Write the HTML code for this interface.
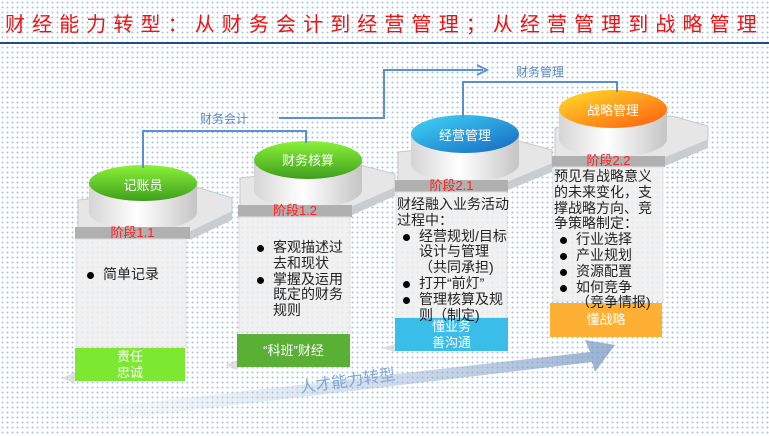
<!DOCTYPE html>
<html><head><meta charset="utf-8"><style>
body{margin:0}
#p{position:relative;width:769px;height:436px;overflow:hidden;background-color:#fff;background-image:radial-gradient(circle,#a9c6e0 0.8px,transparent 1px);background-size:5px 5px;font-family:"Liberation Sans","Noto Sans CJK SC",sans-serif}
.a{position:absolute}
.t{font-size:14px;line-height:15.8px;color:#222}
.h{font-size:13px;color:#f22;text-align:center;line-height:12px}
.f{color:#fff;font-size:13px;text-align:center;line-height:16px;display:flex;align-items:center;justify-content:center}
ul{margin:0;padding:0 0 0 22px;list-style:none}
li{position:relative}
li:before{content:"";position:absolute;left:-16px;top:5px;width:7px;height:7px;border-radius:50%;background:#000}
.c{color:#fff;font-size:13px;text-align:center}
</style></head><body><div id="p">
<div class="a" style="left:5px;top:8px;font-size:20px;letter-spacing:7.1px;color:#f01010;white-space:nowrap">财经能力转型：从财务会计到经营管理；从经营管理到战略管理</div>
<svg class="a" style="left:0;top:0" width="769" height="436">
<defs>
<linearGradient id="side" x1="0" x2="1"><stop offset="0" stop-color="#d5d5d5"/><stop offset=".45" stop-color="#fff"/><stop offset="1" stop-color="#c5c5c5"/></linearGradient>
<linearGradient id="g1" x1="0" y1="0" x2="0" y2="1"><stop offset="0" stop-color="#8af23a"/><stop offset="1" stop-color="#3f9e1c"/></linearGradient>
<linearGradient id="g3" x1="0" y1="0" x2="1" y2="1"><stop offset="0" stop-color="#3fd8f8"/><stop offset="1" stop-color="#1766c0"/></linearGradient>
<linearGradient id="g4" x1="0" y1="0" x2="1" y2="1"><stop offset="0" stop-color="#ffe02a"/><stop offset="1" stop-color="#ff5a10"/></linearGradient>
<linearGradient id="arr" x1="0" x2="1"><stop offset="0" stop-color="#dfe8f2" stop-opacity=".2"/><stop offset="1" stop-color="#6f90bf"/></linearGradient>
</defs>
<line x1="0" y1="43" x2="769" y2="43" stroke="#1f4e8c" stroke-width="2"/>
<polygon points="60,412 590,352 585,340 615,345 595,372 592,362 70,425" fill="url(#arr)" opacity=".7"/>
<g fill="#e6e6e6" stroke="#c8c8c8">
<polygon points="78,200 200,188 232,198 232,212 190,232 78,232"/>
<polygon points="240,178 360,165 395,174 395,188 352,207 240,207"/>
<polygon points="398,152 515,140 552,150 552,164 508,182 398,182"/>
<polygon points="555,128 672,116 708,126 708,140 665,158 555,158"/>
</g>
<g fill="#c9cdd0"><polygon points="190,232 232,212 232,220 190,240"/><polygon points="352,207 395,188 395,196 352,215"/><polygon points="508,182 552,164 552,172 508,190"/><polygon points="665,158 708,140 708,148 665,166"/></g>
<g><path d="M89,183 V212 A54,18 0 0 0 197,212 V183 Z" fill="url(#side)"/><ellipse cx="143" cy="183" rx="54" ry="18" fill="url(#g1)"/></g>
<g><path d="M254,160 V190 A54,18 0 0 0 362,190 V160 Z" fill="url(#side)"/><ellipse cx="308" cy="160" rx="54" ry="19" fill="url(#g1)"/></g>
<g><path d="M411,134 V164 A54,18 0 0 0 519,164 V134 Z" fill="url(#side)"/><ellipse cx="465" cy="134" rx="54" ry="19" fill="url(#g3)"/></g>
<g><path d="M559,109 V139 A54,18 0 0 0 667,139 V109 Z" fill="url(#side)"/><ellipse cx="613" cy="109" rx="54" ry="19" fill="url(#g4)"/></g>
<g fill="none" stroke="#5b8fd0" stroke-width="2">
<polyline points="143,168 143,131 306,131 306,143"/>
<polyline points="279,118 384,118 384,70 483,70"/>
<polyline points="463,118 463,82 617,82 617,92"/>
</g>
<polyline points="477,65 487,70 477,75" fill="none" stroke="#5b8fd0" stroke-width="2"/>
<g fill="#b0b0b0"><rect x="75" y="227" width="115" height="12"/><rect x="238" y="205" width="114" height="12"/><rect x="395" y="180" width="113" height="12"/><rect x="552" y="156" width="113" height="11"/></g>
<g fill="#efefef" fill-opacity=".85" stroke="#e0e0e0"><rect x="76" y="239" width="110" height="108"/><rect x="239" y="217" width="111" height="115"/><rect x="396" y="192" width="111" height="126"/><rect x="553" y="167" width="110" height="134"/></g>
<g fill="#ccc" opacity=".6"><polygon points="62,378 75,372 75,384"/><polygon points="225,365 237,360 237,370"/><polygon points="382,348 395,344 395,352"/></g>
<rect x="75" y="348" width="110" height="33" fill="#7de832"/>
<rect x="237" y="334" width="113" height="33" fill="#5aaf35"/>
<rect x="395" y="318" width="113" height="33" fill="#3bbde9"/>
<rect x="550" y="303" width="112" height="34" fill="#fdb034"/>
</svg>
<div class="a" style="left:200px;top:110px;font-size:12px;color:#5b87c5">财务会计</div>
<div class="a" style="left:516px;top:63px;font-size:12px;color:#5b87c5">财务管理</div>
<div class="a c" style="left:89px;top:175px;width:108px">记账员</div>
<div class="a c" style="left:254px;top:150px;width:108px">财务核算</div>
<div class="a c" style="left:411px;top:125px;width:108px">经营管理</div>
<div class="a c" style="left:559px;top:100px;width:108px">战略管理</div>
<div class="a h" style="left:75px;top:227px;width:115px">阶段1.1</div>
<div class="a h" style="left:238px;top:205px;width:114px">阶段1.2</div>
<div class="a h" style="left:395px;top:180px;width:113px">阶段2.1</div>
<div class="a h" style="left:552px;top:155px;width:113px">阶段2.2</div>
<div class="a t" style="left:81px;top:267px;width:104px"><ul><li>简单记录</li></ul></div>
<div class="a t" style="left:251px;top:240px;width:96px"><ul><li>客观描述过去和现状</li><li>掌握及运用既定的财务规则</li></ul></div>
<div class="a t" style="left:397px;top:197px;width:116px">财经融入业务活动过程中：<ul><li>经营规划/目标设计与管理（共同承担)</li><li>打开“前灯”</li><li>管理核算及规则（制定)</li></ul></div>
<div class="a t" style="left:554px;top:169px;width:102px">预见有战略意义的未来变化，支撑战略方向、竞争策略制定：<ul><li>行业选择</li><li>产业规划</li><li>资源配置</li><li>如何竞争（竞争情报)</li></ul></div>
<div class="a f" style="left:75px;top:348px;width:110px;height:33px">责任<br>忠诚</div>
<div class="a f" style="left:237px;top:334px;width:113px;height:33px">“科班”财经</div>
<div class="a f" style="left:395px;top:318px;width:113px;height:33px">懂业务<br>善沟通</div>
<div class="a f" style="left:550px;top:303px;width:112px;height:34px">懂战略</div>
<div class="a" style="left:298px;top:374px;font-size:16px;color:#7fa6d8;transform:rotate(-8deg);transform-origin:left top">人才能力转型</div>
</div></body></html>
